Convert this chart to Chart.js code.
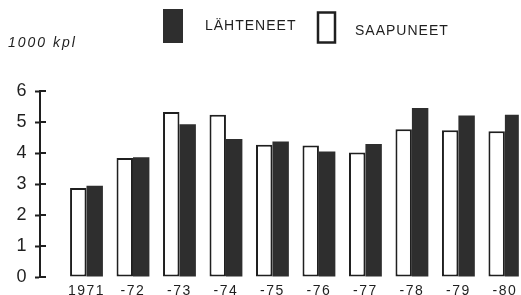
<!DOCTYPE html>
<html>
<head>
<meta charset="utf-8">
<script src="https://cdn.jsdelivr.net/npm/chart.js@4"></script>
<style>
  html, body { margin: 0; padding: 0; background: #fff; overflow: hidden; }
  #wrap { width: 521px; height: 295px; }
</style>
</head>
<body>
<div id="wrap"><canvas id="myChart"></canvas></div>
<script>
// vuodet ja arvot (1000 kpl), luettu kuvasta
const vuodet = ['1971', '-72', '-73', '-74', '-75', '-76', '-77', '-78', '-79', '-80'];
const saapuneet = [2.87, 3.84, 5.32, 5.23, 4.27, 4.24, 4.02, 4.77, 4.73, 4.70];
const lahteneet = [2.94, 3.86, 4.93, 4.45, 4.37, 4.05, 4.29, 5.45, 5.21, 5.23];
const yksikko = '1000 kpl';

const ink = '#1f1f1f';
const dark = '#2e2e2e';

// legend, unit label and the inward half of the y ticks
const paperBits = {
  id: 'paperBits',
  beforeDraw(chart) {
    chart.ctx.letterSpacing = '1.5px';
  },
  afterDraw(chart) {
    const ctx = chart.ctx;
    const ys = chart.scales.y;
    ctx.save();
    ctx.letterSpacing = '0px';
    ctx.strokeStyle = ink;
    ctx.lineWidth = 2;
    ctx.beginPath();
    ys.ticks.forEach(t => {
      const py = Math.round(ys.getPixelForValue(t.value));
      ctx.moveTo(ys.right, py);
      ctx.lineTo(ys.right + 6, py);
    });
    ctx.stroke();

    const ds = chart.data.datasets;
    ctx.fillStyle = ds[1].backgroundColor;
    ctx.fillRect(163, 9, 20, 34);
    ctx.lineWidth = 2.5;
    ctx.strokeStyle = ds[0].borderColor;
    ctx.strokeRect(318, 12.5, 17, 30);

    ctx.fillStyle = ink;
    ctx.textBaseline = 'alphabetic';
    ctx.font = '14px "Liberation Sans"';
    ctx.letterSpacing = '1px';
    ctx.fillText(ds[1].label, 205, 30);
    ctx.fillText(ds[0].label, 355, 35);

    ctx.font = 'italic 14px "Liberation Sans"';
    ctx.letterSpacing = '2px';
    ctx.fillText(yksikko, 8, 47);
    ctx.restore();
  }
};

const ctx = document.getElementById('myChart');

let myChart = new Chart(ctx, {
  type: 'bar',
  data: {
    datasets: [{
      label: 'SAAPUNEET',
      data: saapuneet.map((v, i) => ({ x: i, y: v })),
      backgroundColor: '#ffffff',
      borderColor: ink,
      borderWidth: 2,
      borderSkipped: false
    }, {
      label: 'LÄHTENEET',
      data: lahteneet.map((v, i) => ({ x: i, y: v })),
      backgroundColor: dark,
      borderColor: dark,
      borderWidth: 0
    }]
  },
  options: {
    responsive: true,
    maintainAspectRatio: false,
    animation: false,
    devicePixelRatio: 1,
    categoryPercentage: 0.707,
    barPercentage: 1.0,
    layout: { padding: { top: 91, right: 0, bottom: 0, left: 0 } },
    plugins: {
      legend: { display: false },
      title: { display: false },
      tooltip: { enabled: false }
    },
    scales: {
      x: {
        type: 'linear',
        offset: false,
        min: -1.0,
        max: 9.3,
        grid: { display: false, drawTicks: false, offset: false },
        border: { display: false },
        afterBuildTicks: (scale) => {
          scale.ticks = vuodet.map((_, i) => ({ value: i }));
        },
        afterFit: (scale) => { scale.height = 18; },
        ticks: {
          autoSkip: false,
          maxRotation: 0,
          padding: 6,
          color: ink,
          font: { family: 'Liberation Sans', size: 14 },
          callback: (v) => vuodet[v] ?? ''
        }
      },
      y: {
        min: 0,
        max: 6,
        afterFit: (scale) => { scale.width = 40; },
        grid: {
          drawOnChartArea: false,
          drawTicks: true,
          tickLength: 5,
          tickWidth: 2,
          color: ink
        },
        border: { display: true, width: 2, color: ink },
        ticks: {
          stepSize: 1,
          padding: 7,
          color: ink,
          font: { family: 'Liberation Sans', size: 18 }
        }
      }
    }
  },
  plugins: [paperBits]
});
</script>
</body>
</html>
